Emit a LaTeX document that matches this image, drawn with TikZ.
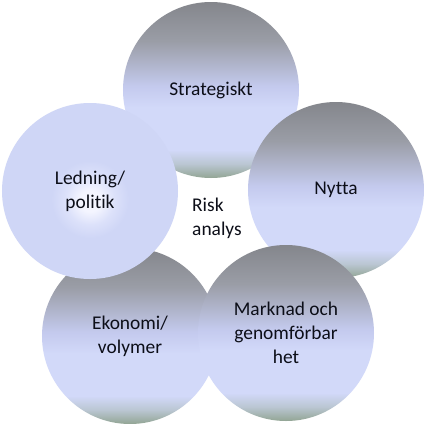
\documentclass[tikz,border=0pt]{standalone}
\usepackage{fontspec}
\setmainfont[Ligatures={NoCommon}]{Carlito}
\definecolor{orbgray}{HTML}{84868C}
\definecolor{orbgray2}{HTML}{9A9DA6}
\definecolor{orblav}{HTML}{C4CAEE}
\definecolor{orblight}{HTML}{D2D9F9}
\definecolor{orbmint}{HTML}{BAC6D2}
\definecolor{orbgreen}{HTML}{92A594}
\definecolor{glowbase}{HTML}{CFD6F6}
\definecolor{glowmid}{HTML}{DCE1FA}
\definecolor{glowwhite}{HTML}{F4F5FF}
\definecolor{txt}{HTML}{0C0E18}
\pgfdeclareverticalshading{orb}{100bp}{%
  color(0bp)=(orbgreen); color(25bp)=(orbgreen); color(29bp)=(orbmint);
  color(33bp)=(orblight); color(45bp)=(orblight); color(51bp)=(orblav);
  color(64bp)=(orbgray2); color(75bp)=(orbgray); color(100bp)=(orbgray)}
\pgfdeclareradialshading{glow}{\pgfpoint{0bp}{-3bp}}{%
  color(0bp)=(glowwhite); color(3bp)=(glowwhite); color(7bp)=(glowmid);
  color(11bp)=(glowbase); color(50bp)=(glowbase)}
\begin{document}
\begin{tikzpicture}[x=1bp,y=-1bp,
  orbnode/.style={circle, minimum size=176bp, inner sep=0pt, align=center,
    text=txt, font=\fontsize{19.5}{24}\selectfont},
  plainorb/.style={orbnode, shade, shading=orb},
  gloworb/.style={orbnode, shade, shading=glow},
  centertext/.style={align=left, text=txt, font=\fontsize{19.5}{24}\selectfont, inner sep=0pt}]
\useasboundingbox[fill=white] (0,0) rectangle (425,424);
\node[plainorb] (strat) at (211,90) {Strategiskt};
\node[plainorb] (nytta) at (336,190) {Nytta};
\node[plainorb] (ekon) at (130,336) {Ekonomi/\\volymer};
\node[plainorb] (markn) at (286,333) {Marknad och\\genomförbar\\het};
\node[gloworb] (ledn) at (90,191) {Ledning/\\politik};
\node[centertext, anchor=west] (risk) at (192,218) {Risk\\analys};
\end{tikzpicture}
\end{document}
